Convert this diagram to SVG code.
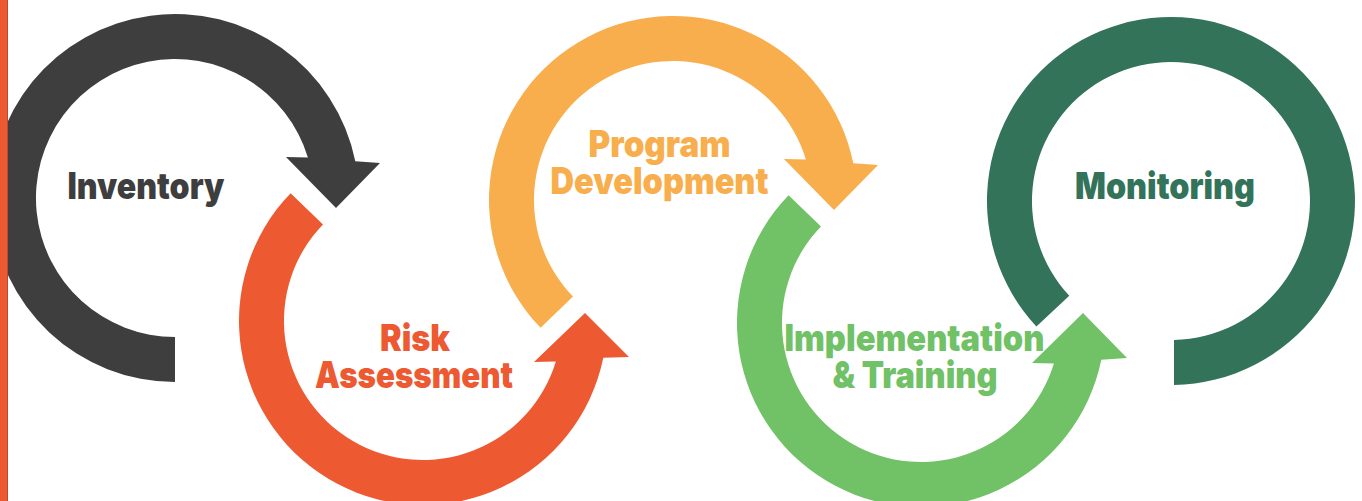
<svg xmlns="http://www.w3.org/2000/svg" width="1362" height="501" viewBox="0 0 1362 501">
  <style>
    .label { font-family: "Inter", "Lato", "Noto Sans", sans-serif; font-weight: 900; font-size: 37px; text-anchor: middle; }
    .dark { fill: #3e3e3e; }
    .red { fill: #ed5a32; }
    .amber { fill: #f8ae4c; }
    .lime { fill: #71c167; }
    .pine { fill: #32735a; }
  </style>
  <rect x="0" y="0" width="1362" height="501" fill="#ffffff"/>

  <!-- Step 1: Inventory -->
  <g id="inventory">
    <path class="dark" d="M175,382 A184,184 0 1 1 355.3,161.3 L380,163 L336,208 L286,157 L307.9,157.4 A139,139 0 1 0 175,337 Z"/>
    <text class="label dark" x="146" y="199" textLength="157" lengthAdjust="spacingAndGlyphs">Inventory</text>
  </g>

  <!-- Step 2: Risk Assessment -->
  <g id="risk-assessment">
    <path class="red" d="M290.6,193.2 A184,184 0 1 0 603.3,357.7 L629,357 L585,313 L534,362 L555.9,361.6 A139,139 0 1 1 323,224.4 Z"/>
    <text class="label red" x="415" y="351" textLength="70" lengthAdjust="spacingAndGlyphs">Risk</text>
    <text class="label red" x="414" y="388" textLength="198" lengthAdjust="spacingAndGlyphs">Assessment</text>
  </g>

  <!-- Step 3: Program Development -->
  <g id="program-development">
    <path class="amber" d="M540.6,327.8 A184,184 0 1 1 853.3,163.3 L878,165 L834,210 L784,159 L805.9,159.4 A139,139 0 1 0 573,296.6 Z"/>
    <text class="label amber" x="659.5" y="157" textLength="142" lengthAdjust="spacingAndGlyphs">Program</text>
    <text class="label amber" x="659.5" y="194" textLength="218" lengthAdjust="spacingAndGlyphs">Development</text>
  </g>

  <!-- Step 4: Implementation & Training -->
  <g id="implementation-training">
    <path class="lime" d="M788.6,195.2 A184,184 0 1 0 1101.3,359.7 L1127,358 L1083,313 L1032,363 L1053.9,363.6 A139,139 0 1 1 821,226.4 Z"/>
    <text class="label lime" x="914.5" y="351" textLength="260" lengthAdjust="spacingAndGlyphs">Implementation</text>
    <text class="label lime" x="915" y="387.5" textLength="165" lengthAdjust="spacingAndGlyphs">&amp; Training</text>
  </g>

  <!-- Step 5: Monitoring -->
  <g id="monitoring">
    <path class="pine" d="M1174,385 A184,184 0 1 0 1036.4,326.5 L1069.3,295.8 A139,139 0 1 1 1174,340 Z"/>
    <text class="label pine" x="1165" y="199" textLength="180" lengthAdjust="spacingAndGlyphs">Monitoring</text>
  </g>

  <!-- left accent bar -->
  <rect x="0" y="0" width="8" height="501" fill="#ed5a32"/>
  <rect x="7" y="0" width="1" height="501" fill="#c14a2a"/>
</svg>
